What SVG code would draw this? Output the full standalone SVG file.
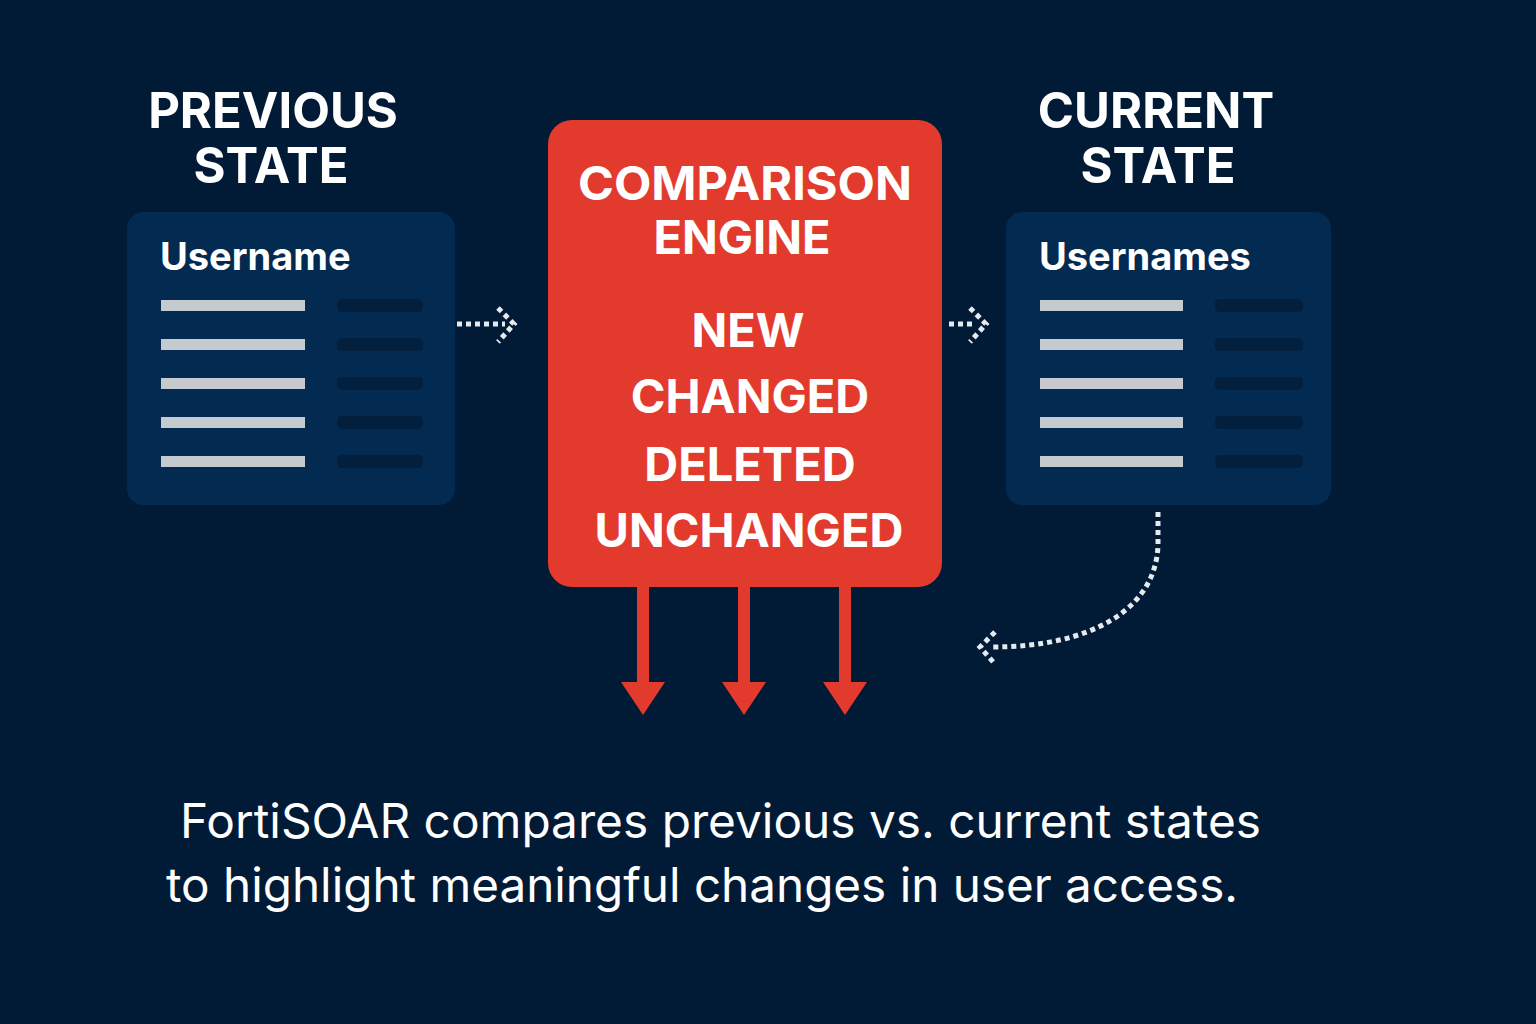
<svg xmlns="http://www.w3.org/2000/svg" width="1536" height="1024" viewBox="0 0 1536 1024">
<defs>
<style>
.title{font-family:Inter,"Noto Sans","DejaVu Sans",sans-serif;font-weight:700;font-size:49px;fill:#ffffff;text-anchor:middle}
.head{font-family:Inter,"Noto Sans","DejaVu Sans",sans-serif;font-weight:700;font-size:38px;fill:#ffffff}
.eng{font-family:Inter,"Noto Sans","DejaVu Sans",sans-serif;font-weight:700;font-size:47px;fill:#ffffff;text-anchor:middle}
.cap{font-family:Inter,"Noto Sans","DejaVu Sans",sans-serif;font-weight:400;font-size:47.5px;fill:#ffffff}
.panel{fill:#032a50}
.lb{fill:#c5cacf}
.db{fill:#021f3e}
.dot{fill:none;stroke:#e6eaee;stroke-width:5;stroke-dasharray:5 4}
.red{fill:#e23b2e}
</style>
</defs>
<rect width="1536" height="1024" fill="#011a35"/>

<g id="previous-state">
<text class="title" x="273" y="128">PREVIOUS</text>
<text class="title" x="271" y="183">STATE</text>
<rect class="panel" x="127" y="212" width="328" height="293" rx="16"/>
<text class="head" x="160" y="270">Username</text>
<rect class="lb" x="161" y="300" width="144" height="11"/>
<rect class="lb" x="161" y="339" width="144" height="11"/>
<rect class="lb" x="161" y="378" width="144" height="11"/>
<rect class="lb" x="161" y="417" width="144" height="11"/>
<rect class="lb" x="161" y="456" width="144" height="11"/>
<rect class="db" x="337" y="299" width="86" height="13" rx="5"/>
<rect class="db" x="337" y="338" width="86" height="13" rx="5"/>
<rect class="db" x="337" y="377" width="86" height="13" rx="5"/>
<rect class="db" x="337" y="416" width="86" height="13" rx="5"/>
<rect class="db" x="337" y="455" width="86" height="13" rx="5"/>
</g>

<g id="current-state">
<text class="title" x="1156" y="128">CURRENT</text>
<text class="title" x="1158" y="183">STATE</text>
<rect class="panel" x="1006" y="212" width="325" height="293" rx="16"/>
<text class="head" x="1039" y="270">Usernames</text>
<rect class="lb" x="1040" y="300" width="143" height="11"/>
<rect class="lb" x="1040" y="339" width="143" height="11"/>
<rect class="lb" x="1040" y="378" width="143" height="11"/>
<rect class="lb" x="1040" y="417" width="143" height="11"/>
<rect class="lb" x="1040" y="456" width="143" height="11"/>
<rect class="db" x="1215" y="299" width="88" height="13" rx="5"/>
<rect class="db" x="1215" y="338" width="88" height="13" rx="5"/>
<rect class="db" x="1215" y="377" width="88" height="13" rx="5"/>
<rect class="db" x="1215" y="416" width="88" height="13" rx="5"/>
<rect class="db" x="1215" y="455" width="88" height="13" rx="5"/>
</g>

<g id="comparison-engine">
<rect class="red" x="548" y="120" width="394" height="467" rx="24"/>
<text class="eng" x="745" y="200" textLength="334" lengthAdjust="spacingAndGlyphs">COMPARISON</text>
<text class="eng" x="742" y="254">ENGINE</text>
<text class="eng" x="748" y="347">NEW</text>
<text class="eng" x="750" y="413">CHANGED</text>
<text class="eng" x="750" y="481">DELETED</text>
<text class="eng" x="749" y="547">UNCHANGED</text>
</g>

<g id="connectors">
<path class="dot" d="M457 324 H505"/>
<path class="dot" d="M498 308 L514 324 L498 342"/>
<path class="dot" d="M949 324 H975"/>
<path class="dot" d="M970 308 L986 324 L970 342"/>
<path class="dot" d="M1158 512 V545 C1156 610 1090 647 992 647"/>
<path class="dot" d="M995 632 L980 647 L995 664"/>
<g class="red">
<rect x="637" y="585" width="12" height="100"/>
<polygon points="621,682 665,682 643,715"/>
<rect x="738" y="585" width="12" height="100"/>
<polygon points="722,682 766,682 744,715"/>
<rect x="839" y="585" width="12" height="100"/>
<polygon points="823,682 867,682 845,715"/>
</g>
</g>

<g id="caption">
<text class="cap" x="180" y="838" textLength="1081" lengthAdjust="spacingAndGlyphs">FortiSOAR compares previous vs. current states</text>
<text class="cap" x="166" y="902" textLength="1072" lengthAdjust="spacingAndGlyphs">to highlight meaningful changes in user access.</text>
</g>
</svg>
